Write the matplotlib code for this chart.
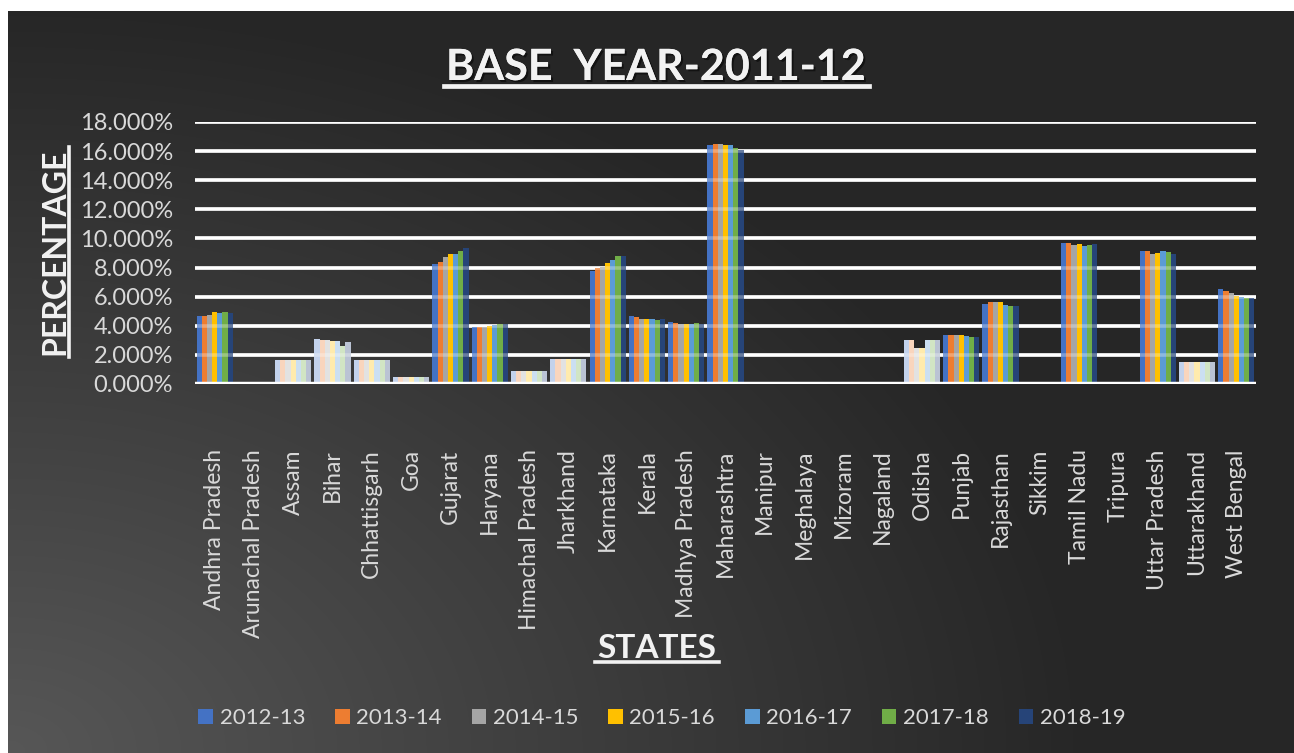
import numpy as np
import matplotlib.pyplot as plt
from matplotlib.lines import Line2D
from matplotlib.patches import Patch
from matplotlib import patheffects
from matplotlib.ticker import FuncFormatter

plt.rcParams['font.family'] = ['Lato', 'DejaVu Sans']

years = ['2012-13', '2013-14', '2014-15', '2015-16', '2016-17', '2017-18', '2018-19']

states = ['Andhra Pradesh', 'Arunachal Pradesh', 'Assam', 'Bihar', 'Chhattisgarh', 'Goa',
          'Gujarat', 'Haryana', 'Himachal Pradesh', 'Jharkhand', 'Karnataka', 'Kerala',
          'Madhya Pradesh', 'Maharashtra', 'Manipur', 'Meghalaya', 'Mizoram', 'Nagaland',
          'Odisha', 'Punjab', 'Rajasthan', 'Sikkim', 'Tamil Nadu', 'Tripura',
          'Uttar Pradesh', 'Uttarakhand', 'West Bengal']

# доля штата в процентах, по годам
share = {
    'Andhra Pradesh':    [4.67, 4.67, 4.76, 4.95, 4.90, 4.95, 4.90],
    'Arunachal Pradesh': [0.12, 0.12, 0.11, 0.11, 0.11, 0.10, 0.10],
    'Assam':             [1.66, 1.65, 1.65, 1.65, 1.65, 1.65, 1.65],
    'Bihar':             [3.10, 3.05, 3.00, 2.96, 2.96, 2.58, 2.90],
    'Chhattisgarh':      [1.66, 1.65, 1.65, 1.64, 1.65, 1.65, 1.64],
    'Goa':               [0.46, 0.45, 0.45, 0.45, 0.45, 0.45, 0.45],
    'Gujarat':           [8.25, 8.36, 8.75, 8.93, 8.93, 9.16, 9.32],
    'Haryana':           [3.95, 3.95, 3.95, 4.00, 4.05, 4.10, 4.10],
    'Himachal Pradesh':  [0.92, 0.92, 0.92, 0.92, 0.92, 0.92, 0.92],
    'Jharkhand':         [1.70, 1.70, 1.70, 1.70, 1.70, 1.70, 1.70],
    'Karnataka':         [7.79, 8.00, 8.05, 8.30, 8.52, 8.80, 8.80],
    'Kerala':            [4.67, 4.58, 4.50, 4.44, 4.44, 4.40, 4.44],
    'Madhya Pradesh':    [4.25, 4.20, 4.15, 4.15, 4.15, 4.20, 4.15],
    'Maharashtra':       [16.43, 16.50, 16.50, 16.43, 16.40, 16.20, 16.08],
    'Manipur':           [0.11, 0.10, 0.10, 0.10, 0.10, 0.10, 0.10],
    'Meghalaya':         [0.12, 0.12, 0.11, 0.11, 0.11, 0.11, 0.11],
    'Mizoram':           [0.08, 0.09, 0.09, 0.10, 0.10, 0.10, 0.10],
    'Nagaland':          [0.12, 0.12, 0.11, 0.11, 0.11, 0.11, 0.11],
    'Odisha':            [3.02, 3.02, 2.45, 2.45, 3.02, 3.02, 3.02],
    'Punjab':            [3.37, 3.37, 3.37, 3.37, 3.30, 3.20, 3.20],
    'Rajasthan':         [5.48, 5.60, 5.60, 5.60, 5.45, 5.36, 5.36],
    'Sikkim':            [0.10, 0.10, 0.10, 0.10, 0.10, 0.10, 0.10],
    'Tamil Nadu':        [9.67, 9.67, 9.55, 9.60, 9.48, 9.55, 9.63],
    'Tripura':           [0.12, 0.12, 0.12, 0.12, 0.12, 0.12, 0.12],
    'Uttar Pradesh':     [9.14, 9.14, 8.93, 9.02, 9.14, 9.07, 8.93],
    'Uttarakhand':       [1.53, 1.53, 1.53, 1.53, 1.53, 1.53, 1.53],
    'West Bengal':       [6.53, 6.42, 6.23, 6.05, 6.00, 5.93, 5.93],
}

colors = ['#4472c4', '#ed7d31', '#a5a5a5', '#ffc000', '#5b9bd5', '#70ad47', '#264478']
# группы, нарисованные бледными цветами
pale_states = {'Assam', 'Bihar', 'Chhattisgarh', 'Goa', 'Himachal Pradesh',
               'Jharkhand', 'Odisha', 'Uttarakhand'}

W, H = 1294, 753
TEXT = '#d9d9d9'
TITLE = '#f2f2f2'


def pale(color, k=0.68):
    # смешиваем цвет с белым
    rgb = np.array(plt.matplotlib.colors.to_rgb(color))
    return tuple(rgb + (1 - rgb) * k)


def draw_background(fig):
    # тёмный фон, светлее к левому нижнему углу
    bg = fig.add_axes([8 / W, 0, 1 - 8 / W, 1 - 11 / H], zorder=-10)
    x = np.linspace(0, 1, 400)[None, :]
    y = np.linspace(1, 0, 240)[:, None]
    d = np.sqrt((x * 1.2) ** 2 + (y * 1.0) ** 2)
    t = np.clip(1 - d, 0, 1)
    dark, light = 0.152, 0.34
    v = dark + (light - dark) * t
    img = np.dstack([v, v, v])
    bg.imshow(img, aspect='auto', extent=[0, 1, 0, 1], interpolation='bilinear')
    bg.set_axis_off()


def underline_h(fig, txt, y_px, lw):
    fig.canvas.draw()
    bb = txt.get_window_extent()
    fig.add_artist(Line2D([(bb.x0 - 2) / W, (bb.x1 + 3) / W], [1 - y_px / H] * 2,
                          transform=fig.transFigure, color=TITLE, lw=lw))


def main():
    fig = plt.figure(figsize=(W / 100, H / 100), dpi=100, facecolor='white')
    draw_background(fig)

    ax = fig.add_axes([195 / W, 1 - 384 / H, 1061 / W, 262 / H])
    ax.set_facecolor('none')

    n = len(years)
    x = np.arange(len(states))
    width = 0.92 / n
    for i, year in enumerate(years):
        vals = np.array([share[s][i] for s in states]) / 100
        cols = [pale(colors[i]) if s in pale_states else colors[i] for s in states]
        ax.bar(x - 0.46 + width * (i + 0.5), vals, width=width, color=cols,
               edgecolor='none', zorder=2)

    ax.set_xlim(-0.5, len(states) - 0.5)
    ax.set_ylim(0, 0.18)
    ax.set_yticks(np.arange(0, 0.181, 0.02))
    ax.yaxis.set_major_formatter(FuncFormatter(lambda v, p: f'{v * 100:.3f}%'))
    ax.grid(axis='y', color='white', lw=2.6, zorder=1)
    for yv in ax.get_yticks():
        ax.axhline(yv, color='white', lw=2.6, alpha=0.3, zorder=3)
    ax.axhline(0, color='white', lw=3.2, zorder=4)
    for sp in ax.spines.values():
        sp.set_visible(False)

    ax.set_xticks(x)
    ax.set_xticklabels(states, rotation=90, fontsize=16.5, color=TEXT)
    ax.tick_params(axis='x', length=0, pad=47)
    ax.tick_params(axis='y', length=0, pad=16, labelsize=17, labelcolor=TEXT)

    shadow = [patheffects.withSimplePatchShadow(offset=(1.5, -1.5), alpha=0.5,
                                                shadow_rgbFace='black'),
              patheffects.Normal()]

    title = fig.text(656 / W, 1 - 80 / H, 'BASE  YEAR-2011-12', fontsize=31,
                     fontweight='bold', color=TITLE, ha='center', va='baseline')
    title.set_path_effects(shadow)
    underline_h(fig, title, 86, 3.4)

    xlab = fig.text(657 / W, 1 - 658 / H, 'STATES', fontsize=24, fontweight='bold',
                    color=TITLE, ha='center', va='baseline')
    underline_h(fig, xlab, 662, 2.6)

    ylab = fig.text(64 / W, 1 - 252 / H, 'PERCENTAGE', fontsize=23, fontweight='bold',
                    color=TITLE, ha='center', va='baseline', rotation=90,
                    rotation_mode='anchor')
    fig.canvas.draw()
    bb = ylab.get_window_extent()
    fig.add_artist(Line2D([69 / W] * 2, [(bb.y0 - 2) / H, (bb.y1 + 2) / H],
                          transform=fig.transFigure, color=TITLE, lw=2.6))

    handles = [Patch(facecolor=c, edgecolor='none') for c in colors]
    fig.legend(handles, years, loc='center', bbox_to_anchor=(662 / W, 1 - 718 / H),
               ncol=n, frameon=False, fontsize=16, labelcolor=TEXT,
               handlelength=0.65, handleheight=0.65, handletextpad=0.3,
               columnspacing=1.35)

    fig.savefig('out.png', dpi=100, facecolor='white')


if __name__ == '__main__':
    main()
